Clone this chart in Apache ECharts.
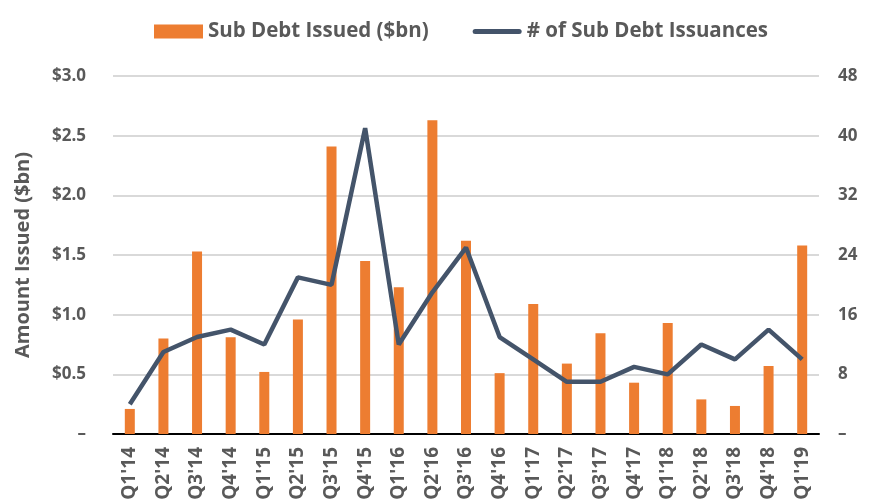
<!DOCTYPE html>
<html>
<head>
<meta charset="utf-8">
<script src="https://cdn.jsdelivr.net/npm/echarts@6/dist/echarts.min.js"></script>
<style>
html, body { margin: 0; padding: 0; background: #fff; }
#chart { width: 870px; height: 500px; }
</style>
</head>
<body>
<div id="chart"></div>
<script>
// 季度
var quarters = ["Q1'14", "Q2'14", "Q3'14", "Q4'14", "Q1'15", "Q2'15", "Q3'15", "Q4'15", "Q1'16", "Q2'16", "Q3'16",
	"Q4'16", "Q1'17", "Q2'17", "Q3'17", "Q4'17", "Q1'18", "Q2'18", "Q3'18", "Q4'18", "Q1'19"];
// 发行金额 ($bn)
var amountIssued = [0.21, 0.80, 1.53, 0.81, 0.52, 0.96, 2.41, 1.45, 1.23, 2.63, 1.62,
	0.51, 1.09, 0.59, 0.845, 0.43, 0.93, 0.29, 0.235, 0.57, 1.58];
// 发行数量
var issuanceCount = [4, 11, 13, 14, 12, 21, 20, 41, 12, 19, 25,
	13, 10, 7, 7, 9, 8, 12, 10, 14, 10];

var textColor = '#595959';
var fontName = '"Open Sans", "Liberation Sans", sans-serif';

var chart = echarts.init(document.getElementById('chart'));

var option = {
	animation: false,
	color: ['#ed7d31', '#44546a'],
	legend: {
		top: 16,
		left: 149,
		itemGap: 44,
		itemWidth: 49,
		itemHeight: 14,
		textStyle: {
			color: textColor,
			fontFamily: fontName,
			fontSize: 20.5,
			fontWeight: 'bold'
		},
		data: [{
			name: 'Sub Debt Issued ($bn)',
			icon: 'rect'
		}, {
			name: '# of Sub Debt Issuances',
			icon: 'path://M2,0 L46,0 A2,2 0 0 1 46,5 L2,5 A2,2 0 0 1 2,0 Z'
		}]
	},
	grid: {
		top: 76,
		left: 113,
		right: 51,
		bottom: 66,
		outerBoundsMode: 'none'
	},
	xAxis: {
		type: 'category',
		data: quarters,
		axisTick: { show: false },
		axisLine: {
			lineStyle: { color: '#000', width: 2 }
		},
		axisLabel: {
			rotate: 90,
			margin: 13,
			color: textColor,
			fontFamily: fontName,
			fontSize: 19,
			fontWeight: 'bold'
		}
	},
	yAxis: [{
		type: 'value',
		min: 0,
		max: 3,
		interval: 0.5,
		name: 'Amount Issued ($bn)',
		nameLocation: 'middle',
		nameGap: 80,
		nameTextStyle: {
			color: textColor,
			fontFamily: fontName,
			fontSize: 20,
			fontWeight: 'bold'
		},
		axisLine: { show: false },
		axisTick: { show: false },
		axisLabel: {
			margin: 27,
			color: textColor,
			fontFamily: fontName,
			fontSize: 17,
			fontWeight: 'bold',
			formatter: function(v) {
				return v === 0 ? '–' : '$' + v.toFixed(1);
			}
		},
		splitLine: {
			lineStyle: { color: '#d9d9d9', width: 2 }
		}
	}, {
		type: 'value',
		min: 0,
		max: 48,
		interval: 8,
		axisLine: { show: false },
		axisTick: { show: false },
		axisLabel: {
			margin: 19,
			color: textColor,
			fontFamily: fontName,
			fontSize: 17,
			fontWeight: 'bold',
			formatter: function(v) {
				return v === 0 ? '–' : v;
			}
		},
		splitLine: { show: false }
	}],
	series: [{
		name: 'Sub Debt Issued ($bn)',
		type: 'bar',
		barWidth: 10,
		data: amountIssued
	}, {
		name: '# of Sub Debt Issuances',
		type: 'line',
		yAxisIndex: 1,
		symbol: 'none',
		lineStyle: { width: 4.5, color: '#44546a' },
		data: issuanceCount
	}]
};

chart.setOption(option);
</script>
</body>
</html>
